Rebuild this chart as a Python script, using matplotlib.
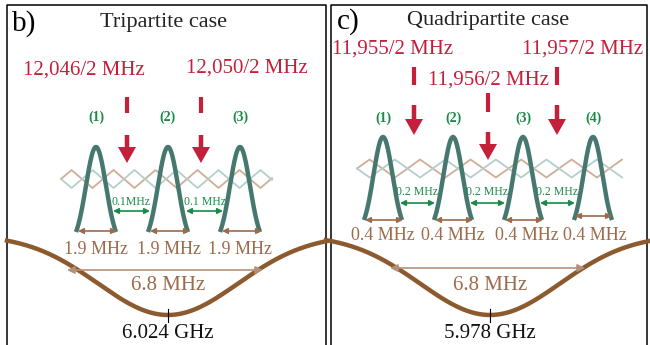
import matplotlib.pyplot as plt
import numpy as np

plt.rcParams['font.family'] = ['Liberation Serif', 'DejaVu Serif']

# ---- data (labels shown in the two panels) ----
panel_tags = ['b)', 'c)']
titles = ['Tripartite case', 'Quadripartite case']
pump_labels = [['12,046/2 MHz', '12,050/2 MHz'],
               ['11,955/2 MHz', '11,956/2 MHz', '11,957/2 MHz']]
mode_labels = [['(1)', '(2)', '(3)'], ['(1)', '(2)', '(3)', '(4)']]
gap_labels = [['0.1MHz', '0.1 MHz'], ['0.2 MHz', '0.2 MHz', '0.2 MHz']]
width_labels = [['1.9 MHz', '1.9 MHz', '1.9 MHz'],
                ['0.4 MHz', '0.4 MHz', '0.4 MHz', '0.4 MHz']]
span_labels = ['6.8 MHz', '6.8 MHz']
center_labels = ['6.024 GHz', '5.978 GHz']

# ---- layout (pixel coordinates, y down) ----
panel_x = [(7, 326), (331, 647)]
tag_pos = [(24, 24), (348, 22)]
title_pos = [(163, 22), (488, 21)]
pump_text_pos = [[(84, 70), (247, 68)], [(393, 49), (488, 80), (583, 49)]]
pump_x = [[127, 201], [414, 488, 557]]
# line top, line bottom, arrow start, arrow tip
pump_y = [[(97, 113, 135, 163), (97, 113, 135, 163)],
          [(67, 85, 105, 135), (93, 112, 132, 160), (67, 85, 105, 135)]]
mode_x = [[96, 168, 240], [383, 453, 523, 593]]
mode_label_y = [117, 118]
peak_top = [147, 137]
peak_base = [232, 220]
peak_sigma = [10, 9.5]
zig_x = [(61, 272), (357, 622)]
zig_y = [179, 168.5]
zig_period = [42, 50.5]
gap_arrows = [[(113, 150), (186, 223)], [(400, 435), (470, 505), (540, 575)]]
gap_arrow_y = [211, 203]
gap_label_y = [202, 192]
width_arrows = [[(78, 117, 231), (150, 190, 231), (222, 262, 231)],
                [(365, 403, 220), (435, 473, 220), (505, 543, 220), (575, 612, 216)]]
width_label_x = [[96, 169, 240], [383, 453, 527, 595]]
width_label_y = [249, 235]
dip_center = [168, 490]
dip_x = [(7, 326), (326, 650)]
span_arrow = [(67, 263, 270), (390, 585, 268)]
span_label_y = [285, 285]

red = '#c41f3b'
teal = '#46786f'
green = '#1b8a48'
brown = '#8b5a2e'
tan = '#9c6b4c'
light_tan = '#b3907a'
zig_a = '#cfae98'
zig_b = '#b3cfcc'

fig = plt.figure(figsize=(6.5, 3.45), dpi=100)
ax = fig.add_axes([0, 0, 1, 1])
ax.set_xlim(0, 650)
ax.set_ylim(345, 0)
ax.axis('off')

for p in range(2):
    x0, x1 = panel_x[p]
    ax.plot([x0, x0, x1, x1], [345, 5, 5, 345], color='black', lw=1.1)

    ax.text(*tag_pos[p], panel_tags[p], fontsize=21, ha='center', va='center')
    ax.text(*title_pos[p], titles[p], fontsize=16, ha='center', va='center', color='#222222')

    # pump frequencies and arrows
    for lab, (tx, ty), px, (l0, l1, a0, a1) in zip(pump_labels[p], pump_text_pos[p], pump_x[p], pump_y[p]):
        ax.text(tx, ty, lab, fontsize=15, color=red, ha='center', va='center')
        ax.plot([px, px], [l0, l1], color=red, lw=3, solid_capstyle='butt')
        ax.arrow(px, a0, 0, a1 - a0, width=4.5, head_width=18, head_length=16,
                 length_includes_head=True, color=red, lw=0)

    # diamond chain (two triangle waves in antiphase)
    xs = np.linspace(zig_x[p][0], zig_x[p][1], 1000)
    ph = (xs - zig_x[p][0]) / zig_period[p] + 0.25
    tri = 2 * np.abs(2 * (ph - np.floor(ph + 0.5))) - 1
    ax.plot(xs, zig_y[p] - 9 * tri, color=zig_a, lw=1.3, zorder=1)
    ax.plot(xs, zig_y[p] + 9 * tri, color=zig_b, lw=1.3, zorder=1)

    # mode peaks
    s = peak_sigma[p]
    for mx, ml in zip(mode_x[p], mode_labels[p]):
        xx = np.linspace(mx - 2 * s, mx + 2 * s, 200)
        g = (np.exp(-(xx - mx) ** 2 / (2 * s * s)) - np.exp(-2)) / (1 - np.exp(-2))
        ax.plot(xx, peak_base[p] - (peak_base[p] - peak_top[p]) * g, color=teal, lw=3.2,
                solid_capstyle='butt', zorder=3)
        ax.text(mx, mode_label_y[p], ml, fontsize=10, fontweight='bold', color=green,
                ha='center', va='center')

    # spacing between modes
    for (a, b), lab in zip(gap_arrows[p], gap_labels[p]):
        ax.annotate('', xy=(a, gap_arrow_y[p]), xytext=(b, gap_arrow_y[p]),
                    arrowprops=dict(arrowstyle='<|-|>', color=green, lw=1.2,
                                    mutation_scale=8, shrinkA=0, shrinkB=0))
        ax.text((a + b) / 2, gap_label_y[p], lab, fontsize=8.5, color=green,
                ha='center', va='center')

    # mode widths
    for (a, b, y), lab, lx in zip(width_arrows[p], width_labels[p], width_label_x[p]):
        ax.annotate('', xy=(a, y), xytext=(b, y),
                    arrowprops=dict(arrowstyle='<|-|>', color=tan, lw=1.2,
                                    mutation_scale=8, shrinkA=0, shrinkB=0))
        ax.text(lx, width_label_y[p], lab, fontsize=13, color=tan, ha='center', va='center')

    # cavity resonance dip
    dx = np.linspace(dip_x[p][0], dip_x[p][1], 400)
    ax.plot(dx, 235 + 80 * np.exp(-(dx - dip_center[p]) ** 2 / (2 * 70 ** 2)),
            color=brown, lw=3.2, zorder=2)
    a, b, y = span_arrow[p]
    ax.annotate('', xy=(a, y), xytext=(b, y),
                arrowprops=dict(arrowstyle='<|-|>', color=light_tan, lw=1.2,
                                mutation_scale=11, shrinkA=0, shrinkB=0), zorder=3)
    ax.text(dip_center[p], span_label_y[p], span_labels[p], fontsize=15, color=tan,
            ha='center', va='center')
    ax.plot([dip_center[p]] * 2, [309, 322], color='black', lw=0.8, zorder=4)
    ax.text(dip_center[p], 334, center_labels[p], fontsize=15, color='#111111',
            ha='center', va='center')

fig.savefig('out.png', dpi=100)
